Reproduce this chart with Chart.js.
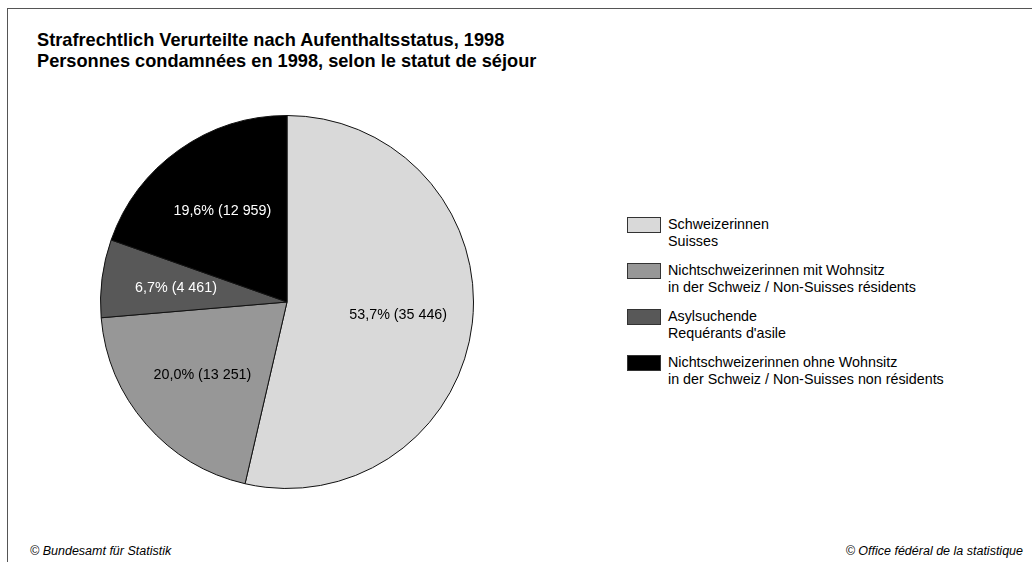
<!DOCTYPE html>
<html>
<head>
<meta charset="utf-8">
<script src="https://cdn.jsdelivr.net/npm/chart.js@4"></script>
<style>
  html, body { margin: 0; padding: 0; background: #fff; }
  body { width: 1032px; height: 562px; position: relative; overflow: hidden; font-family: "Liberation Sans", Arial, sans-serif; }
  #frame { position: absolute; left: 7px; top: 8px; right: -2px; bottom: -2px; border-left: 1px solid #555; border-top: 1px solid #555; }
  #title { position: absolute; left: 37px; top: 30px; font-weight: bold; font-size: 18.2px; line-height: 21px; color: #000; }
  #pieWrap { position: absolute; left: 100px; top: 115px; width: 374px; height: 374px; }
  #legend { position: absolute; left: 627px; top: 217px; }
  .item { position: relative; height: 46px; }
  .box { position: absolute; left: 0; top: 0; width: 32px; height: 14px; border: 1px solid #333; }
  .txt { position: absolute; left: 41px; top: -1px; font-size: 14.3px; line-height: 17px; color: #000; white-space: nowrap; }
  .foot { position: absolute; top: 544px; font-size: 12.5px; line-height: 15px; font-style: italic; color: #000; }
</style>
</head>
<body>
<div id="frame"></div>
<div id="title"></div>
<div id="pieWrap"><canvas id="c" width="374" height="374"></canvas></div>
<div id="legend"></div>
<div class="foot" style="left:30px">© Bundesamt für Statistik</div>
<div class="foot" style="right:9px">© Office fédéral de la statistique</div>
<script>
const titleLines = ["Strafrechtlich Verurteilte nach Aufenthaltsstatus, 1998", "Personnes condamnées en 1998, selon le statut de séjour"];
const categories = [
  ["Schweizerinnen", "Suisses"],
  ["Nichtschweizerinnen mit Wohnsitz", "in der Schweiz / Non-Suisses résidents"],
  ["Asylsuchende", "Requérants d'asile"],
  ["Nichtschweizerinnen ohne Wohnsitz", "in der Schweiz / Non-Suisses non résidents"]
];
const values = [35446, 13251, 4461, 12959];
const percentLabels = ["53,7%", "20,0%", "6,7%", "19,6%"];
const colors = ["#d9d9d9", "#979797", "#585858", "#000000"];
const labelColors = ["#000000", "#000000", "#ffffff", "#ffffff"];

document.getElementById('title').innerHTML = titleLines.join('<br>');
const leg = document.getElementById('legend');
categories.forEach((c, i) => {
  const d = document.createElement('div');
  d.className = 'item';
  d.innerHTML = '<div class="box" style="background:' + colors[i] + '"></div><div class="txt">' + c.join('<br>') + '</div>';
  leg.appendChild(d);
});

function fmt(v) { return String(v).replace(/\B(?=(\d{3})+(?!\d))/g, ' '); }

const sliceLabels = {
  id: 'sliceLabels',
  afterDatasetsDraw(chart) {
    const ctx = chart.ctx;
    const meta = chart.getDatasetMeta(0);
    ctx.save();
    ctx.font = '14.3px "Liberation Sans", Arial, sans-serif';
    ctx.textAlign = 'center';
    ctx.textBaseline = 'middle';
    meta.data.forEach((arc, i) => {
      const p = arc.getProps(['x', 'y', 'startAngle', 'endAngle', 'outerRadius'], true);
      const mid = (p.startAngle + p.endAngle) / 2;
      const r = p.outerRadius * 0.6;
      ctx.fillStyle = labelColors[i];
      ctx.fillText(percentLabels[i] + ' (' + fmt(values[i]) + ')', p.x + Math.cos(mid) * r, p.y + Math.sin(mid) * r);
    });
    ctx.restore();
  }
};

new Chart(document.getElementById('c'), {
  type: 'pie',
  data: {
    labels: categories.map(c => c.join(' ')),
    datasets: [{ data: values, backgroundColor: colors, borderColor: '#111', borderWidth: 1 }]
  },
  options: {
    responsive: false,
    animation: false,
    plugins: { legend: { display: false }, tooltip: { enabled: false } }
  },
  plugins: [sliceLabels]
});
</script>
</body>
</html>
